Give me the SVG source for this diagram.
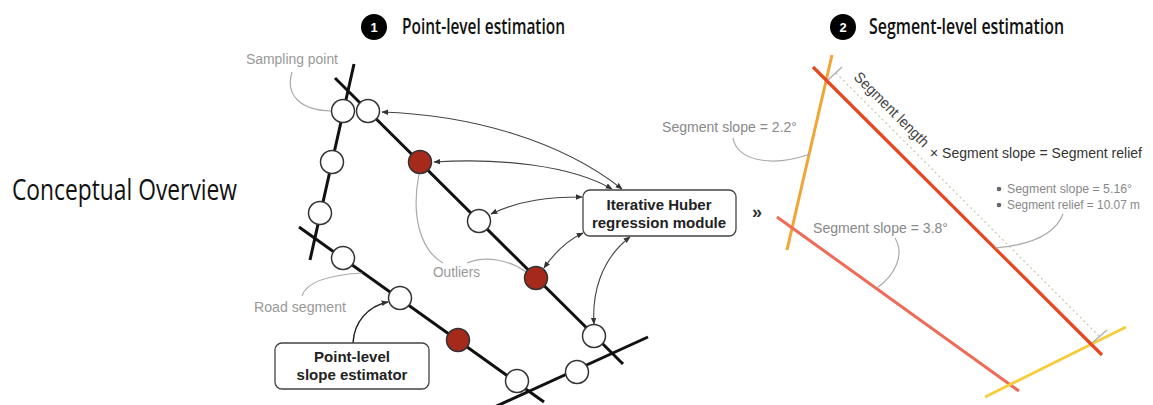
<svg xmlns="http://www.w3.org/2000/svg" width="1153" height="405" viewBox="0 0 1153 405">
  <style>
    .road { stroke: #111; stroke-width: 3; fill: none; }
    .pt { fill: #fff; stroke: #333; stroke-width: 1.5; }
    .out { fill: #a52a1b; stroke: #333; stroke-width: 1.5; }
    .lead { stroke: #aaa; stroke-width: 1.2; fill: none; }
    .link { stroke: #444; stroke-width: 1.1; fill: none; marker-start: url(#ah); marker-end: url(#ah); }
    .note { font-family: "Liberation Sans", Arial, sans-serif; font-size: 14px; fill: #999; }
    .rnote { font-family: "Liberation Sans", Arial, sans-serif; font-size: 15px; fill: #888; }
    .box { fill: #fff; stroke: #444; stroke-width: 1.3; }
    .boxt { font-family: "Liberation Sans", Arial, sans-serif; font-size: 15px; font-weight: bold; fill: #222; text-anchor: middle; }
    .head { font-family: "Open Sans", "Noto Sans", sans-serif; font-size: 22px; font-weight: 600; fill: #111; }
    .num { font-family: "Liberation Sans", Arial, sans-serif; font-size: 13px; font-weight: bold; fill: #fff; text-anchor: middle; }
  </style>
  <defs>
    <marker id="ah" viewBox="0 0 10 10" refX="9" refY="5" markerWidth="7" markerHeight="7" orient="auto-start-reverse" markerUnits="userSpaceOnUse">
      <path d="M0,1 L10,5 L0,9 z" fill="#333"/>
    </marker>
  </defs>
  <rect width="1153" height="405" fill="#fff"/>

  <text id="title" x="12" y="200" font-family="Open Sans, Noto Sans, sans-serif" font-size="29" fill="#111" textLength="225" lengthAdjust="spacingAndGlyphs">Conceptual Overview</text>

  <!-- headings -->
  <g id="step1">
    <circle cx="374" cy="27" r="13" fill="#000"/>
    <text class="num" x="374" y="32">1</text>
    <text class="head" x="402" y="34" textLength="163" lengthAdjust="spacingAndGlyphs">Point-level estimation</text>
  </g>
  <g id="step2">
    <circle cx="843" cy="27" r="13" fill="#000"/>
    <text class="num" x="843" y="32">2</text>
    <text class="head" x="869" y="34" textLength="195" lengthAdjust="spacingAndGlyphs">Segment-level estimation</text>
  </g>

  <!-- road segments -->
  <g id="roads">
    <line class="road" x1="354" y1="64" x2="310" y2="260"/>
    <line class="road" x1="335" y1="78" x2="623" y2="364"/>
    <line class="road" x1="299" y1="227" x2="544" y2="402"/>
    <line class="road" x1="488" y1="410" x2="648" y2="337"/>
  </g>

  <!-- leader lines for labels -->
  <g id="leaders">
    <path class="lead" d="M292,72 C285,95 300,110 331,111"/>
    <path class="lead" d="M302,296 C306,282 330,275 362,273"/>
    <path class="lead" d="M419,174 C411,215 420,250 443,263"/>
    <path class="lead" d="M467,263 C485,255 510,260 526,272"/>
  </g>

  <!-- sampling points -->
  <g id="points">
    <circle class="pt" cx="343" cy="111" r="11.5"/>
    <circle class="pt" cx="332" cy="162" r="11.5"/>
    <circle class="pt" cx="320" cy="213" r="11.5"/>
    <circle class="pt" cx="368" cy="111" r="11.5"/>
    <circle class="out" cx="420" cy="162" r="11.5"/>
    <circle class="pt" cx="479" cy="221" r="11.5"/>
    <circle class="out" cx="536" cy="278" r="11.5"/>
    <circle class="pt" cx="594" cy="336" r="11.5"/>
    <circle class="pt" cx="343" cy="258" r="11.5"/>
    <circle class="pt" cx="400" cy="298" r="11.5"/>
    <circle class="out" cx="458" cy="340" r="11.5"/>
    <circle class="pt" cx="517" cy="381" r="11.5"/>
    <circle class="pt" cx="577" cy="372" r="11.5"/>
  </g>

  <g id="labels-left">
    <text class="note" x="246" y="64" textLength="92" lengthAdjust="spacingAndGlyphs">Sampling point</text>
    <text class="note" x="254" y="312" textLength="92" lengthAdjust="spacingAndGlyphs">Road segment</text>
    <text class="note" x="433" y="277" textLength="47" lengthAdjust="spacingAndGlyphs">Outliers</text>
  </g>

  <!-- connectors between regression module and points -->
  <g id="connectors">
    <path class="link" d="M622,189 C560,140 470,115 382,112"/>
    <path class="link" d="M612,189 C570,165 500,158 434,162"/>
    <path class="link" d="M582,197 C550,197 520,200 491,214"/>
    <path class="link" d="M583,233 C568,240 555,252 544,268"/>
    <path class="link" d="M630,237 C600,260 592,295 594,324"/>
    <path d="M353,343 C354,322 368,306 388,302" stroke="#222" stroke-width="1.5" fill="none" marker-end="url(#ah)"/>
  </g>

  <g id="huber">
    <rect class="box" x="583" y="190" width="153" height="46" rx="7"/>
    <text class="boxt" x="659" y="210">Iterative Huber</text>
    <text class="boxt" x="659" y="228">regression module</text>
  </g>

  <g id="estimator">
    <rect class="box" x="275" y="343" width="154" height="46" rx="7"/>
    <text class="boxt" x="352" y="362">Point-level</text>
    <text class="boxt" x="352" y="380">slope estimator</text>
  </g>

  <text id="then" x="752" y="218" font-family="Liberation Sans, Arial, sans-serif" font-size="18" font-weight="bold" fill="#333">»</text>

  <!-- segment-level panel -->
  <g id="segments">
    <line x1="832" y1="55" x2="787" y2="250" stroke="#f2a532" stroke-width="3"/>
    <line x1="777" y1="217" x2="1019" y2="391" stroke="#ee6b58" stroke-width="3"/>
    <line x1="985" y1="397" x2="1126" y2="327" stroke="#f6cd3e" stroke-width="3"/>
    <line x1="813" y1="67" x2="1102" y2="355" stroke="#e8461f" stroke-width="3.2"/>
  </g>

  <g id="length-dimension">
    <line x1="828" y1="80" x2="842" y2="67" stroke="#aaa" stroke-width="1.2"/>
    <line x1="1092" y1="343" x2="1107" y2="330" stroke="#aaa" stroke-width="1.2"/>
    <line x1="836" y1="73" x2="1100" y2="337" stroke="#c8c4a8" stroke-width="1.2" stroke-dasharray="2 3"/>
    <text x="853" y="78" transform="rotate(45 853 78)" font-family="Liberation Sans, Arial, sans-serif" font-size="15" fill="#444" textLength="99" lengthAdjust="spacingAndGlyphs">Segment length</text>
    <text x="930" y="158" font-family="Liberation Sans, Arial, sans-serif" font-size="15" fill="#333" textLength="212" lengthAdjust="spacingAndGlyphs">× Segment slope = Segment relief</text>
  </g>

  <g id="slope-labels">
    <path class="lead" d="M733,138 C737,160 770,168 810,154"/>
    <path class="lead" d="M895,238 C905,255 895,275 877,288"/>
    <path class="lead" d="M1063,214 C1055,235 1030,245 995,248"/>
    <text class="rnote" x="662" y="132" textLength="135" lengthAdjust="spacingAndGlyphs">Segment slope = 2.2°</text>
    <text class="rnote" x="813" y="233" textLength="135" lengthAdjust="spacingAndGlyphs">Segment slope = 3.8°</text>
    <circle cx="999" cy="189" r="2.3" fill="#666"/>
    <circle cx="999" cy="205" r="2.3" fill="#666"/>
    <text x="1007" y="193" font-family="Liberation Sans, Arial, sans-serif" font-size="12.5" fill="#888" textLength="125" lengthAdjust="spacingAndGlyphs">Segment slope = 5.16°</text>
    <text x="1007" y="209" font-family="Liberation Sans, Arial, sans-serif" font-size="12.5" fill="#888" textLength="133" lengthAdjust="spacingAndGlyphs">Segment relief = 10.07 m</text>
  </g>
</svg>
